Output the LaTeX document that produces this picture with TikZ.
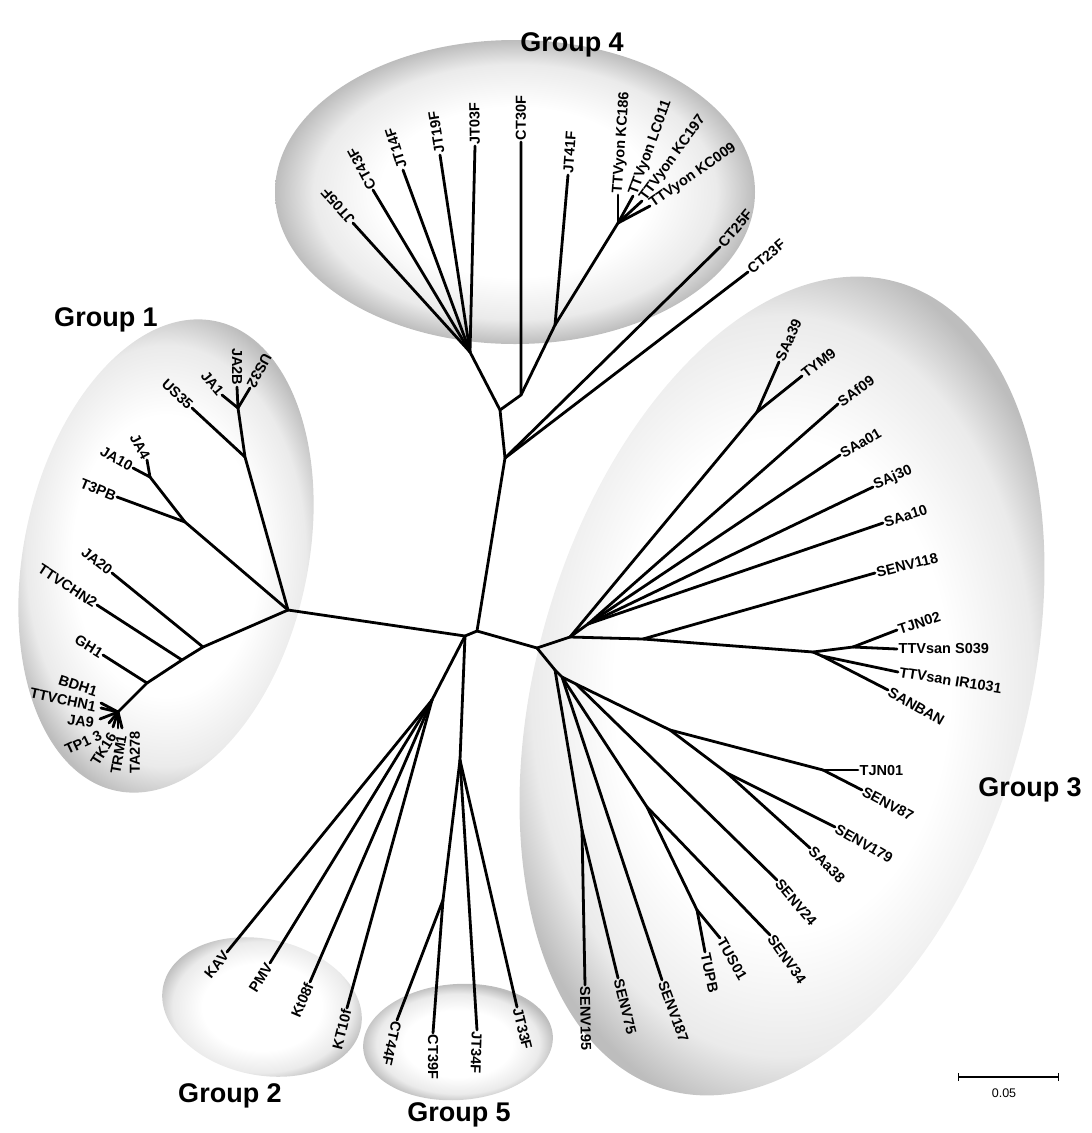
\documentclass[tikz,border=0pt]{standalone}
\usepackage{fontspec}
\setmainfont{Liberation Sans}
\pgfdeclareradialshading{rim}{\pgfpoint{0bp}{0bp}}{color(0bp)=(white); color(14bp)=(white); color(21bp)=(black!8); color(25bp)=(black!26); color(50bp)=(black!26)}
\begin{document}
\begin{tikzpicture}[x=1pt,y=-1pt,
  br/.style={line width=2.8pt, line cap=round, line join=round},
  lab/.style={font=\bfseries\fontsize{14.5}{15}\selectfont, inner sep=1.5pt},
  grp/.style={font=\bfseries\fontsize{27}{30}\selectfont, inner sep=0pt},
  blob/.style={shading=rim}]
\useasboundingbox (0,0) rectangle (1092,1133);
% shaded group regions
\shade[blob] (515,192) ellipse [x radius=240, y radius=152];
\shade[blob, rotate around={78:(166,556)}] (166,556) ellipse [x radius=240, y radius=142];
\shade[blob, rotate around={74:(782,686)}] (782,686) ellipse [x radius=420, y radius=245];
\shade[blob, rotate around={-12:(262,1007)}] (262,1007) ellipse [x radius=101, y radius=68];
\shade[blob, rotate around={4:(458,1042)}] (458,1042) ellipse [x radius=95, y radius=58];

% group titles
\node[grp] (G1) at (106,320) {Group 1};
\node[grp] (G2) at (230,1096) {Group 2};
\node[grp] (G3) at (1030,790) {Group 3};
\node[grp] (G4) at (572,45) {Group 4};
\node[grp] (G5) at (459,1115) {Group 5};

% ---------- internal nodes ----------
\coordinate (c1) at (465,636);
\coordinate (c2) at (477,631);
\coordinate (g1r) at (288,610);
\coordinate (g1u) at (245,457);
\coordinate (g1u1) at (238,408);
\coordinate (g1m) at (185,522);
\coordinate (g1m1) at (150,477);
\coordinate (g1l1) at (203,647);
\coordinate (g1l2) at (182,660);
\coordinate (g1l3) at (147,683);
\coordinate (g1c) at (118,712);
\coordinate (g2r) at (432,700);
\coordinate (g5r) at (460,760);
\coordinate (g5a) at (443,900);
\coordinate (R4) at (505,458);
\coordinate (M4) at (500,410);
\coordinate (L4n) at (470,352);
\coordinate (C4) at (521,395);
\coordinate (J4) at (555,325);
\coordinate (T4) at (618,223);
\coordinate (n3) at (537,648);
\coordinate (n3u) at (570,637);
\coordinate (n3v) at (588,624);
\coordinate (nSAT) at (757,412);
\coordinate (n3h) at (643,639);
\coordinate (nTT) at (813,652);
\coordinate (nTTa) at (853,647);
\coordinate (nTTb) at (822,656);
\coordinate (L0) at (555,670);
\coordinate (L0a) at (562,677);
\coordinate (L0b) at (576,684);
\coordinate (L1) at (582,830);
\coordinate (L2) at (647,807);
\coordinate (L2a) at (697,910);
\coordinate (L4) at (670,730);
\coordinate (L3) at (727,773);
\coordinate (L5) at (823,770);

% ---------- tips ----------
% group 1
\coordinate (tJA1) at (222,395);
\coordinate (tJA2B) at (237,387);
\coordinate (tUS32) at (250,388);
\coordinate (tUS35) at (192,408);
\coordinate (tJA4) at (147,460);
\coordinate (tJA10) at (133,468);
\coordinate (tT3PB) at (117,497);
\coordinate (tJA20) at (112,573);
\coordinate (tTTVCHN2) at (97,605);
\coordinate (tGH1) at (103,655);
\coordinate (tBDH1) at (101,703);
\coordinate (tTTVCHN1) at (101,708);
\coordinate (tJA9) at (100,719);
\coordinate (tTP13) at (109,723);
\coordinate (tTK16) at (113,727);
\coordinate (tTRM1) at (118,728);
\coordinate (tTA278) at (122,728);
% group 2
\coordinate (tKAV) at (227,952);
\coordinate (tPMV) at (270,963);
\coordinate (tKt08f) at (310,982);
\coordinate (tKT10f) at (347,1008);
% group 5
\coordinate (tCT44F) at (397,1020);
\coordinate (tCT39F) at (433,1033);
\coordinate (tJT34F) at (477,1030);
\coordinate (tJT33F) at (517,1007);
% group 4
\coordinate (tJT05F) at (353,223);
\coordinate (tCT43F) at (373,190);
\coordinate (tJT14F) at (403,170);
\coordinate (tJT19F) at (440,155);
\coordinate (tJT03F) at (475,146);
\coordinate (tCT30F) at (521,142);
\coordinate (tJT41F) at (568,175);
\coordinate (tKC186) at (618,195);
\coordinate (tLC011) at (633,196);
\coordinate (tKC197) at (642,201);
\coordinate (tKC009) at (650,206);
\coordinate (tCT25F) at (720,247);
\coordinate (tCT23F) at (748,272);
% group 3
\coordinate (tSAa39) at (779,362);
\coordinate (tTYM9) at (802,376);
\coordinate (tSAf09) at (838,404);
\coordinate (tSAa01) at (840,455);
\coordinate (tSAj30) at (873,487);
\coordinate (tSAa10) at (883,523);
\coordinate (tSENV118) at (875,573);
\coordinate (tTJN02) at (897,630);
\coordinate (tS039) at (897,649);
\coordinate (tIR1031) at (898,672);
\coordinate (tSANBAN) at (888,690);
\coordinate (tTJN01) at (858,770);
\coordinate (tSENV87) at (862,790);
\coordinate (tSENV179) at (835,827);
\coordinate (tSAa38) at (810,848);
\coordinate (tSENV24) at (777,880);
\coordinate (tSENV34) at (770,935);
\coordinate (tTUS01) at (720,938);
\coordinate (tTUPB) at (705,952);
\coordinate (tSENV187) at (662,980);
\coordinate (tSENV75) at (618,978);
\coordinate (tSENV195) at (585,985);

% ---------- branches ----------
\draw[br] (g1r) -- (c1) -- (c2);
\draw[br] (c1) -- (g2r);
\draw[br] (c1) -- (g5r);
\draw[br] (c2) -- (R4);
\draw[br] (c2) -- (n3);
% group 1
\draw[br] (g1r) -- (g1u) -- (g1u1);
\draw[br] (g1u1) -- (tJA1);
\draw[br] (g1u1) -- (tJA2B);
\draw[br] (g1u1) -- (tUS32);
\draw[br] (g1u) -- (tUS35);
\draw[br] (g1r) -- (g1m) -- (g1m1);
\draw[br] (g1m1) -- (tJA4);
\draw[br] (g1m1) -- (tJA10);
\draw[br] (g1m) -- (tT3PB);
\draw[br] (g1r) -- (g1l1) -- (g1l2) -- (g1l3) -- (g1c);
\draw[br] (g1l1) -- (tJA20);
\draw[br] (g1l2) -- (tTTVCHN2);
\draw[br] (g1l3) -- (tGH1);
\foreach \t in {BDH1,TTVCHN1,JA9,TP13,TK16,TRM1,TA278} \draw[br] (g1c) -- (t\t);
% group 2
\foreach \t in {KAV,PMV,Kt08f,KT10f} \draw[br] (g2r) -- (t\t);
% group 5
\draw[br] (g5r) -- (g5a);
\draw[br] (g5a) -- (tCT44F);
\draw[br] (g5a) -- (tCT39F);
\draw[br] (g5r) -- (tJT34F);
\draw[br] (g5r) -- (tJT33F);
% group 4
\draw[br] (R4) -- (tCT23F);
\draw[br] (R4) -- (tCT25F);
\draw[br] (R4) -- (M4) -- (L4n);
\foreach \t in {JT05F,CT43F,JT14F,JT19F,JT03F} \draw[br] (L4n) -- (t\t);
\draw[br] (M4) -- (C4) -- (tCT30F);
\draw[br] (C4) -- (J4) -- (tJT41F);
\draw[br] (J4) -- (T4);
\foreach \t in {KC186,LC011,KC197,KC009} \draw[br] (T4) -- (t\t);
% group 3
\draw[br] (n3) -- (n3u) -- (n3v);
\draw[br] (n3u) -- (nSAT);
\draw[br] (nSAT) -- (tSAa39);
\draw[br] (nSAT) -- (tTYM9);
\foreach \t in {SAf09,SAa01,SAj30,SAa10} \draw[br] (n3v) -- (t\t);
\draw[br] (n3u) -- (n3h) -- (nTT);
\draw[br] (n3h) -- (tSENV118);
\draw[br] (nTT) -- (nTTa);
\draw[br] (nTTa) -- (tTJN02);
\draw[br] (nTTa) -- (tS039);
\draw[br] (nTT) -- (nTTb);
\draw[br] (nTTb) -- (tIR1031);
\draw[br] (nTTb) -- (tSANBAN);
\draw[br] (n3) -- (L0);
\draw[br] (L0) -- (L1);
\draw[br] (L1) -- (tSENV195);
\draw[br] (L1) -- (tSENV75);
\draw[br] (L0) -- (L0a) -- (tSENV187);
\draw[br] (L0a) -- (L2) -- (L2a);
\draw[br] (L2a) -- (tTUPB);
\draw[br] (L2a) -- (tTUS01);
\draw[br] (L2) -- (tSENV34);
\draw[br] (L0a) -- (L0b) -- (tSENV24);
\draw[br] (L0b) -- (L4) -- (L3);
\draw[br] (L3) -- (tSAa38);
\draw[br] (L3) -- (tSENV179);
\draw[br] (L4) -- (L5);
\draw[br] (L5) -- (tTJN01);
\draw[br] (L5) -- (tSENV87);

% ---------- labels ----------
% group 1 (text ends at the tip)
\node[lab, anchor=east, rotate=-50] (lJA1) at (tJA1) {JA1};
\node[lab, anchor=east, rotate=-90] (lJA2B) at (tJA2B) {JA2B};
\node[lab, anchor=east, rotate=-118] (lUS32) at (tUS32) {US32};
\node[lab, anchor=east, rotate=-43] (lUS35) at (tUS35) {US35};
\node[lab, anchor=east, rotate=-62] (lJA4) at (tJA4) {JA4};
\node[lab, anchor=east, rotate=-30] (lJA10) at (tJA10) {JA10};
\node[lab, anchor=east, rotate=-22] (lT3PB) at (tT3PB) {T3PB};
\node[lab, anchor=east, rotate=-38] (lJA20) at (tJA20) {JA20};
\node[lab, anchor=east, rotate=-33] (lTTVCHN2) at (tTTVCHN2) {TTVCHN2};
\node[lab, anchor=east, rotate=-32] (lGH1) at (tGH1) {GH1};
\node[lab, anchor=east, rotate=-18, inner sep=0pt] (lBDH1) at (97,692) {BDH1};
\node[lab, anchor=east, rotate=-12, inner sep=0pt] (lTTVCHN1) at (96,707) {TTVCHN1};
\node[lab, anchor=east, rotate=-8, inner sep=0pt] (lJA9) at (94,723) {JA9};
\node[lab, anchor=east, rotate=25, inner sep=0pt] (lTP13) at (101,734) {TP1 3};
\node[lab, anchor=east, rotate=58, inner sep=0pt] (lTK16) at (113,734) {TK16};
\node[lab, anchor=east, rotate=80, inner sep=0pt] (lTRM1) at (122,735) {TRM1};
\node[lab, anchor=east, rotate=90, inner sep=0pt] (lTA278) at (135,731) {TA278};
% group 2
\node[lab, anchor=east, rotate=51] (lKAV) at (tKAV) {KAV};
\node[lab, anchor=east, rotate=58] (lPMV) at (tPMV) {PMV};
\node[lab, anchor=east, rotate=67] (lKt08f) at (tKt08f) {Kt08f};
\node[lab, anchor=east, rotate=76] (lKT10f) at (tKT10f) {KT10f};
% group 5
\node[lab, anchor=west, rotate=-103] (lCT44F) at (tCT44F) {CT44F};
\node[lab, anchor=west, rotate=-90] (lCT39F) at (tCT39F) {CT39F};
\node[lab, anchor=west, rotate=-92] (lJT34F) at (tJT34F) {JT34F};
\node[lab, anchor=west, rotate=-76] (lJT33F) at (tJT33F) {JT33F};
% group 4
\node[lab, anchor=west, rotate=132] (lJT05F) at (tJT05F) {JT05F};
\node[lab, anchor=west, rotate=118] (lCT43F) at (tCT43F) {CT43F};
\node[lab, anchor=west, rotate=108] (lJT14F) at (tJT14F) {JT14F};
\node[lab, anchor=west, rotate=99] (lJT19F) at (tJT19F) {JT19F};
\node[lab, anchor=west, rotate=91] (lJT03F) at (tJT03F) {JT03F};
\node[lab, anchor=west, rotate=90] (lCT30F) at (tCT30F) {CT30F};
\node[lab, anchor=west, rotate=86] (lJT41F) at (tJT41F) {JT41F};
\node[lab, anchor=west, rotate=86] (lKC186) at (tKC186) {TTVyon KC186};
\node[lab, anchor=west, rotate=70] (lLC011) at (tLC011) {TTVyon LC011};
\node[lab, anchor=west, rotate=54] (lKC197) at (tKC197) {TTVyon KC197};
\node[lab, anchor=west, rotate=35] (lKC009) at (tKC009) {TTVyon KC009};
\node[lab, anchor=west, rotate=50] (lCT25F) at (tCT25F) {CT25F};
\node[lab, anchor=west, rotate=40] (lCT23F) at (tCT23F) {CT23F};
% group 3
\node[lab, anchor=west, rotate=66] (lSAa39) at (tSAa39) {SAa39};
\node[lab, anchor=west, rotate=38] (lTYM9) at (tTYM9) {TYM9};
\node[lab, anchor=west, rotate=36] (lSAf09) at (tSAf09) {SAf09};
\node[lab, anchor=west, rotate=30] (lSAa01) at (tSAa01) {SAa01};
\node[lab, anchor=west, rotate=24] (lSAj30) at (tSAj30) {SAj30};
\node[lab, anchor=west, rotate=18] (lSAa10) at (tSAa10) {SAa10};
\node[lab, anchor=west, rotate=14] (lSENV118) at (tSENV118) {SENV118};
\node[lab, anchor=west, rotate=18] (lTJN02) at (tTJN02) {TJN02};
\node[lab, anchor=west, rotate=0] (lS039) at (tS039) {TTVsan S039};
\node[lab, anchor=west, rotate=-9] (lIR1031) at (tIR1031) {TTVsan IR1031};
\node[lab, anchor=west, rotate=-30] (lSANBAN) at (tSANBAN) {SANBAN};
\node[lab, anchor=west, rotate=0] (lTJN01) at (tTJN01) {TJN01};
\node[lab, anchor=west, rotate=-28] (lSENV87) at (tSENV87) {SENV87};
\node[lab, anchor=west, rotate=-30] (lSENV179) at (tSENV179) {SENV179};
\node[lab, anchor=west, rotate=-45] (lSAa38) at (tSAa38) {SAa38};
\node[lab, anchor=west, rotate=-50] (lSENV24) at (tSENV24) {SENV24};
\node[lab, anchor=west, rotate=-55] (lSENV34) at (tSENV34) {SENV34};
\node[lab, anchor=west, rotate=-60] (lTUS01) at (tTUS01) {TUS01};
\node[lab, anchor=west, rotate=-78] (lTUPB) at (tTUPB) {TUPB};
\node[lab, anchor=west, rotate=-70] (lSENV187) at (tSENV187) {SENV187};
\node[lab, anchor=west, rotate=-76] (lSENV75) at (tSENV75) {SENV75};
\node[lab, anchor=west, rotate=-89] (lSENV195) at (tSENV195) {SENV195};

% scale bar
\coordinate (sb1) at (958,1077);
\coordinate (sb2) at (1058,1077);
\draw[line width=1.6pt] (sb1) -- (sb2);
\draw[line width=1pt] ([yshift=-4pt]sb1) -- ([yshift=4pt]sb1);
\draw[line width=1pt] ([yshift=-4pt]sb2) -- ([yshift=4pt]sb2);
\node[font=\fontsize{12.5}{13}\selectfont, inner sep=0pt] (sbl) at (1004,1093) {0.05};
\end{tikzpicture}
\end{document}
